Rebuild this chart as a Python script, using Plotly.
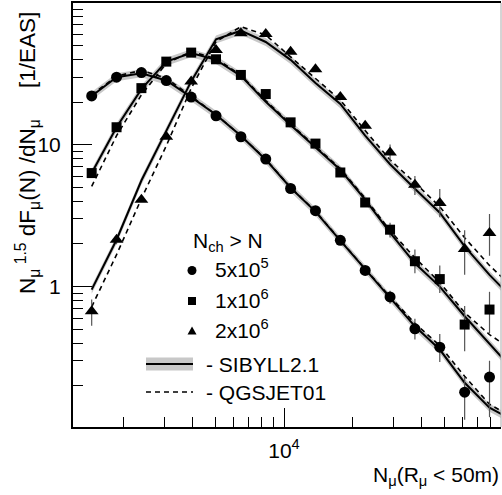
import plotly.graph_objects as go

# ---------------- data ----------------
N_MU = [1446, 1857, 2384, 3062, 3932, 5049, 6482, 8324, 10686, 13722,
        17620, 22620, 29047, 37297, 47890, 61499, 78967]
N_MU_MODEL = [1446, 1857, 2384, 3062, 3932, 5049, 6482, 8324, 10686, 13722,
              17620, 22620, 29047, 37297, 47890, 61499, 78967, 101400]

DATA_5E5 = [22.1, 30.0, 32.3, 28.4, 21.7, 16.0, 11.4, 7.93, 4.92, 3.43,
            2.12, 1.30, 0.846, 0.504, 0.374, 0.180, 0.230]
ERR_5E5_UP = [0, 0, 0, 0, 0, 0, 0, 0, 0, 0, 0, 0, 0.09, 0.09, 0.09, 0.05, 0.07]
ERR_5E5_DN = [0, 0, 0, 0, 0, 0, 0, 0, 0, 0, 0, 0, 0.09, 0.08, 0.08, 0.065, 0.11]

DATA_1E6 = [6.32, 13.3, 25.1, 38.6, 44.7, 40.1, 31.1, 22.8, 14.4, 10.2,
            6.38, 3.92, 2.52, 1.51, 1.13, 0.540, 0.689]
ERR_1E6_UP = [0, 0, 0, 0, 0, 0, 0, 0, 0, 0, 0, 0, 0.30, 0.32, 0.28, 0.19, 0.23]
ERR_1E6_DN = [0, 0, 0, 0, 0, 0, 0, 0, 0, 0, 0, 0, 0.30, 0.27, 0.23, 0.19, 0.22]

DATA_2E6 = [0.670, 2.14, 4.10, 11.4, 27.9, 46.7, 61.2, 60.5, 45.4, 34.1,
            21.7, 13.6, 8.83, 5.23, 3.88, 1.84, 2.39]
ERR_2E6_UP = [0.14, 0.15, 0, 0, 0, 0, 0, 0, 0, 0, 0, 0, 1.2, 0.8, 0.99, 0.66, 0.86]
ERR_2E6_DN = [0.14, 0.15, 0, 0, 0, 0, 0, 0, 0, 0, 0, 0, 1.2, 0.8, 0.79, 0.63, 0.74]

SIBYLL_5E5 = [22.1, 30.0, 32.0, 28.4, 21.7, 16.3, 11.6, 7.85, 4.98, 3.38,
              2.11, 1.32, 0.837, 0.525, 0.360, 0.210, 0.140, 0.113]
SIBYLL_1E6 = [6.32, 13.3, 24.7, 38.6, 44.3, 39.7, 30.6, 20.1, 13.8, 9.59,
              6.67, 4.10, 2.40, 1.46, 1.00, 0.618, 0.397, 0.253]
SIBYLL_2E6 = [0.953, 2.14, 5.6, 12.5, 28.0, 55.5, 63.8, 53.1, 39.7, 27.3,
              19.4, 11.6, 7.3, 4.9, 3.32, 1.92, 1.21, 0.80]

QGSJET_5E5 = [22.5, 30.5, 33.5, 29.5, 22.0, 16.3, 11.6, 7.9, 5.0, 3.40,
              2.13, 1.33, 0.85, 0.55, 0.384, 0.233, 0.148, 0.118]
QGSJET_1E6 = [5.09, 11.6, 22.5, 37.5, 45.5, 40.5, 31.0, 20.5, 14.0, 9.8,
              6.8, 4.2, 2.48, 1.60, 1.07, 0.656, 0.459, 0.35]
QGSJET_2E6 = [0.72, 1.68, 4.17, 9.84, 25.0, 53.4, 68.1, 59.5, 41.7, 29.2,
              20.7, 12.6, 7.84, 5.40, 3.66, 2.21, 1.41, 0.96]

BAND = 0.065  # relative half-width of the SIBYLL uncertainty band

Y_TICKS = [1, 10]
Y_TICK_TEXT = ["1", "10"]
Y_MINOR = [0.2, 0.3, 0.4, 0.5, 0.6, 0.7, 0.8, 0.9, 2, 3, 4, 5, 6, 7, 8, 9,
           20, 30, 40, 50, 60, 70, 80, 90]
X_TICKS = [10000]
X_TICK_TEXT = ["10<sup>4</sup>"]
X_MINOR = [2000, 3000, 4000, 5000, 6000, 7000, 8000, 9000,
           20000, 30000, 40000, 50000, 60000, 70000, 80000, 90000]

LEGEND_LABELS = ["5x10<sup>5</sup>", "1x10<sup>6</sup>", "2x10<sup>6</sup>"]

FONT = "Liberation Sans, Arial, Helvetica, sans-serif"
FS = 21
GRAY = "#c8c8c8"

fig = go.Figure()

# SIBYLL bands
for s in (SIBYLL_5E5, SIBYLL_1E6, SIBYLL_2E6):
    up = [v * (1 + BAND) for v in s]
    lo = [v * (1 - BAND) for v in s]
    fig.add_trace(go.Scatter(x=N_MU_MODEL + N_MU_MODEL[::-1], y=up + lo[::-1],
                             fill="toself", fillcolor=GRAY, line=dict(width=0),
                             mode="lines", hoverinfo="skip", showlegend=False))
# QGSJET dashed
for s in (QGSJET_5E5, QGSJET_1E6, QGSJET_2E6):
    fig.add_trace(go.Scatter(x=N_MU_MODEL, y=s, mode="lines",
                             line=dict(color="black", width=1.6, dash="5px,4px"),
                             showlegend=False))
# SIBYLL solid
for s in (SIBYLL_5E5, SIBYLL_1E6, SIBYLL_2E6):
    fig.add_trace(go.Scatter(x=N_MU_MODEL, y=s, mode="lines",
                             line=dict(color="black", width=2), showlegend=False))
# data
for d, eu, ed, sym, sz in ((DATA_5E5, ERR_5E5_UP, ERR_5E5_DN, "circle", 11),
                           (DATA_1E6, ERR_1E6_UP, ERR_1E6_DN, "square", 10),
                           (DATA_2E6, ERR_2E6_UP, ERR_2E6_DN, "triangle-up", 12)):
    fig.add_trace(go.Scatter(x=N_MU, y=d, mode="markers",
                             marker=dict(symbol=sym, size=sz, color="black"),
                             error_y=dict(type="data", array=eu, arrayminus=ed,
                                          color="#555", thickness=1.2, width=0),
                             showlegend=False))

# layout geometry: plot area x 73..501, y 3..427
L, R, T, B = 73, 1, 3, 68
W, H = 502, 495
PW, PH = W - L - R, H - T - B


def px(x):
    return (x - L) / PW


def py(y):
    return (T + PH - y) / PH


def txt(text, x, y, xa="left", ya="middle", size=FS, **kw):
    return dict(text=text, x=px(x), y=py(y), xref="paper", yref="paper",
                xanchor=xa, yanchor=ya, showarrow=False,
                font=dict(family=FONT, size=size, color="black"), **kw)


ann = [txt("N<sub>ch</sub> &gt; N", 191, 242)]
for i, lab in enumerate(LEGEND_LABELS):
    ann.append(txt(lab, 213, 268 + 30.5 * i))
ann.append(txt("- SIBYLL2.1", 204, 364))
ann.append(txt("- QGSJET01", 204, 392))
ann.append(txt("N<sub>μ</sub>(R<sub>μ</sub> &lt; 50m)", 501, 476, xa="right"))
ann.append(txt("N<sub>μ</sub><sup>&nbsp;1.5</sup>&nbsp;dF<sub>μ</sub>(N)&nbsp;/dN<sub>μ</sub>&nbsp;&nbsp;&nbsp;&nbsp;&nbsp;[1/EAS]",
               27, 10, xa="center", ya="top", size=22.5, textangle=-90))

shapes = []
lx = px(192)
shapes.append(dict(type="circle", xref="paper", yref="paper", xsizemode="pixel", ysizemode="pixel",
                   xanchor=lx, yanchor=py(270.5), x0=-4.5, x1=4.5, y0=-4.5, y1=4.5,
                   fillcolor="black", line=dict(width=0)))
shapes.append(dict(type="rect", xref="paper", yref="paper", xsizemode="pixel", ysizemode="pixel",
                   xanchor=lx, yanchor=py(301), x0=-4, x1=4, y0=-4, y1=4,
                   fillcolor="black", line=dict(width=0)))
shapes.append(dict(type="path", xref="paper", yref="paper", xsizemode="pixel", ysizemode="pixel",
                   xanchor=lx, yanchor=py(331), path="M -4.5 -3.5 L 4.5 -3.5 L 0 4.5 Z",
                   fillcolor="black", line=dict(width=0)))
shapes.append(dict(type="rect", xref="paper", yref="paper", x0=px(146), x1=px(193),
                   y0=py(370.5), y1=py(357.5), fillcolor=GRAY, line=dict(width=0)))
shapes.append(dict(type="line", xref="paper", yref="paper", x0=px(146), x1=px(193),
                   y0=py(364), y1=py(364), line=dict(color="black", width=2)))
shapes.append(dict(type="line", xref="paper", yref="paper", x0=px(146), x1=px(193),
                   y0=py(392), y1=py(392), line=dict(color="black", width=1.6, dash="5px,4px")))
shapes.append(dict(type="line", xref="paper", yref="paper", x0=1, x1=1, y0=0, y1=1,
                   line=dict(color="#aaaaaa", width=1)))

fig.update_layout(
    width=W, height=H, margin=dict(l=L, r=R, t=T, b=B),
    paper_bgcolor="white", plot_bgcolor="white",
    annotations=ann, shapes=shapes, showlegend=False,
    font=dict(family=FONT, size=FS, color="black"),
)
fig.update_xaxes(type="log", range=[3.0786, 4.9476], showgrid=False, zeroline=False,
                 showline=True, linecolor="black", linewidth=2, mirror=True,
                 ticks="inside", ticklen=19, tickwidth=1.2, tickcolor="black",
                 tickvals=X_TICKS, ticktext=X_TICK_TEXT, ticklabelstandoff=4,
                 tickfont=dict(family=FONT, size=FS, color="black"),
                 minor=dict(tickvals=X_MINOR, ticks="inside", ticklen=10,
                            tickwidth=1.2, tickcolor="black", showgrid=False))
fig.update_yaxes(type="log", range=[-0.99, 2.0], showgrid=False, zeroline=False,
                 showline=True, linecolor="black", linewidth=2,
                 ticks="inside", ticklen=19, tickwidth=1.2, tickcolor="black",
                 tickvals=Y_TICKS, ticktext=Y_TICK_TEXT, ticklabelstandoff=6,
                 tickfont=dict(family=FONT, size=FS, color="black"),
                 minor=dict(tickvals=Y_MINOR, ticks="inside", ticklen=10,
                            tickwidth=1.2, tickcolor="black", showgrid=False))

fig.write_html("out.html", config={"displayModeBar": False},
               post_script="document.body.style.margin='0';document.body.style.overflow='hidden';")
